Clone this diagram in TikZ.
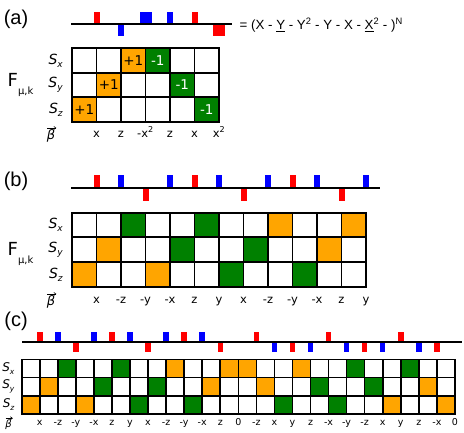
\documentclass[tikz,border=0pt]{standalone}
\usepackage{fontspec}
\setmainfont{DejaVu Sans}
\newfontfamily\arialfont{Liberation Sans}
\usetikzlibrary{positioning, arrows.meta}

\definecolor{pulsered}{RGB}{255,0,0}
\definecolor{pulseblue}{RGB}{0,0,255}
\definecolor{cellorange}{RGB}{255,165,0}
\definecolor{cellgreen}{RGB}{0,128,0}

% spin operator label S with lowered italic subscript
\newcommand{\spinop}[2][9]{\textit{S}\raisebox{-3pt}{\fontsize{#1}{#1}\selectfont\textit{#2}}}
\newcommand{\fmuk}[1][-8pt]{F\raisebox{#1}{\fontsize{10}{10}\selectfont μ,k}}

\begin{document}
\begin{tikzpicture}[
    x=1pt, y=-1pt,
    % panel tags and equation
    panel/.style={font=\arialfont\fontsize{20}{20}\selectfont, inner sep=0pt},
    eqn/.style={font=\arialfont\fontsize{13.3}{13.3}\selectfont, inner sep=0pt},
    % grid cells
    cell/.style={rectangle, draw=black, line width=1.8pt, fill=white, minimum width=24.5pt, minimum height=24.5pt, inner sep=0pt, outer sep=0pt},
    cell0/.style={cell},
    cello/.style={cell, fill=cellorange},
    cellg/.style={cell, fill=cellgreen},
    tallcell/.style={minimum height=24.67pt},
    smallcell/.style={minimum width=18.05pt, minimum height=18.23pt, line width=1.6pt},
    celltext/.style={font=\fontsize{13.5}{13.5}\selectfont, text=white, inner sep=0pt},
    % pulses
    pulse/.style={rectangle, inner sep=0pt, outer sep=0pt, minimum width=6pt, minimum height=12pt},
    xp/.style={pulse, fill=pulsered, anchor=south},
    xm/.style={pulse, fill=pulsered, anchor=north},
    yp/.style={pulse, fill=pulseblue, anchor=south},
    ym/.style={pulse, fill=pulseblue, anchor=north},
    ypw/.style={yp, minimum width=12pt},
    xmw/.style={xm, minimum width=12pt},
    seqline/.style={line width=1.8pt},
    % labels
    rowlab/.style={font=\fontsize{14}{14}\selectfont, inner sep=0pt},
    flab/.style={font=\fontsize{18}{18}\selectfont, inner sep=0pt, anchor=base west},
    collab/.style={font=\fontsize{11.5}{11.5}\selectfont, inner sep=0pt, anchor=base},
    betalab/.style={font=\fontsize{13}{13}\selectfont\itshape, inner sep=0pt},
    vecarrow/.style={line width=0.6pt, -{Straight Barb[length=2pt, width=3pt]}},
]
\useasboundingbox (0,0) rectangle (464,432);

% (a) short sequence
\node[panel] (tagA) at (16,19.5) {(a)};
\coordinate (aL) at (71,23.7);
\coordinate (aR) at (232,23.7);
\foreach \k/\t in {1/xp, 2/ym, 3/ypw, 4/yp, 5/xp, 6/xmw}
    \node[\t] (ap\k) at ({72+24.5*\k},23.7) {};
\draw[seqline] (aL) -- (aR);
\node[eqn, anchor=base west] (eq) at (239.5,29.3) {= (X - \underline{Y} - Y\textsuperscript{2} - Y - X - \underline{X}\textsuperscript{2} - )\textsuperscript{N}};

\foreach \row [count=\r] in {{0,0,o,g,0,0},{0,o,0,0,g,0},{o,0,0,0,0,g}}
    \foreach \v [count=\c] in \row
        \node[cell\v] (a-\r-\c) at ({72+24.5*(\c-0.5)},{48.3+24.5*(\r-0.5)}) {};
\node[celltext, text=black] at (a-1-3) {+1};
\node[celltext] at (a-1-4) {-1};
\node[celltext, text=black] at (a-2-2) {+1};
\node[celltext] at (a-2-5) {-1};
\node[celltext, text=black] at (a-3-1) {+1};
\node[celltext] at (a-3-6) {-1};

\node[rowlab, left=9pt of a-1-1] (aSx) {\spinop{x}};
\node[rowlab, left=9pt of a-2-1] (aSy) {\spinop{y}};
\node[rowlab, left=9pt of a-3-1] (aSz) {\spinop{z}};
\node[flab] (aF) at (7.5,86) {\fmuk};
\node[betalab] (aB) at (51,136) {β};
\draw[vecarrow] ([xshift=0.5pt, yshift=1.5pt]aB.north west) -- ([xshift=1pt, yshift=1.5pt]aB.north east);
\foreach \k/\l in {1/x, 2/z, 3/-x\textsuperscript{2}, 4/z, 5/x, 6/x\textsuperscript{2}}
    \node[collab] (al\k) at ({72+24.5*\k},137.3) {\l};

% (b) twelve-pulse sequence
\node[panel] (tagB) at (16,181) {(b)};
\coordinate (bL) at (71,188.3);
\coordinate (bR) at (380,188.3);
\foreach \k/\t in {1/xp, 2/yp, 3/xm, 4/yp, 5/xp, 6/yp, 7/xm, 8/yp, 9/xp, 10/yp, 11/xm, 12/yp}
    \node[\t, minimum height=13pt] (bp\k) at ({72+24.5*\k},188.3) {};
\draw[seqline] (bL) -- (bR);

\foreach \row [count=\r] in {{0,0,g,0,0,g,0,0,o,0,0,o},{0,o,0,0,g,0,0,g,0,0,o,0},{o,0,0,o,0,0,g,0,0,g,0,0}}
    \foreach \v [count=\c] in \row
        \node[cell\v, tallcell] (b-\r-\c) at ({72+24.5*(\c-0.5)},{212.7+24.67*(\r-0.5)}) {};

\node[rowlab, left=9pt of b-1-1] (bSx) {\spinop{x}};
\node[rowlab, left=9pt of b-2-1] (bSy) {\spinop{y}};
\node[rowlab, left=9pt of b-3-1] (bSz) {\spinop{z}};
\node[flab] (bF) at (7.5,255) {\fmuk};
\node[betalab] (bB) at (51,302) {β};
\draw[vecarrow] ([xshift=0.5pt, yshift=1.5pt]bB.north west) -- ([xshift=1pt, yshift=1.5pt]bB.north east);
\foreach \l [count=\k] in {x,-z,-y,-x,z,y,x,-z,-y,-x,z,y}
    \node[collab] (bl\k) at ({72+24.5*\k},303.3) {\l};

% (c) long sequence
\node[panel] (tagC) at (16,321) {(c)};
\coordinate (cL) at (22,341.7);
\coordinate (cR) at (462,341.7);
\foreach \k/\t in {1/xp, 2/yp, 3/xm, 4/yp, 5/xp, 6/yp, 7/xm, 8/yp, 9/xp, 10/yp, 11/xm,
                   13/xp, 14/ym, 15/xm, 16/ym, 17/xp, 18/ym, 19/xm, 20/ym, 21/xp, 22/ym, 23/xm}
    \node[\t, minimum width=5.5pt, minimum height=10pt] (cp\k) at ({21.7+18.05*\k},341.7) {};
\draw[seqline] (cL) -- (cR);

\foreach \row [count=\r] in {{0,0,g,0,0,g,0,0,o,0,0,o,o,0,0,o,0,0,g,0,0,g,0,0},
                             {0,o,0,0,g,0,0,g,0,0,o,0,0,o,0,0,g,0,0,g,0,0,o,0},
                             {o,0,0,o,0,0,g,0,0,g,0,0,0,0,g,0,0,g,0,0,o,0,0,o}}
    \foreach \v [count=\c] in \row
        \node[cell\v, smallcell] (c-\r-\c) at ({21.7+18.05*(\c-0.5)},{359.3+18.23*(\r-0.5)}) {};

\node[rowlab, font=\fontsize{12}{12}\selectfont, left=7pt of c-1-1] (cSx) {\spinop[7.5]{x}};
\node[rowlab, font=\fontsize{12}{12}\selectfont, left=7pt of c-2-1] (cSy) {\spinop[7.5]{y}};
\node[rowlab, font=\fontsize{12}{12}\selectfont, left=7pt of c-3-1] (cSz) {\spinop[7.5]{z}};
\node[betalab, font=\fontsize{10}{10}\selectfont\itshape] (cB) at (8.5,424.5) {β};
\draw[vecarrow] ([xshift=0.5pt, yshift=1.2pt]cB.north west) -- ([xshift=1pt, yshift=1.2pt]cB.north east);
\foreach \l [count=\k] in {x,-z,-y,-x,z,y,x,-z,-y,-x,z,0,-z,x,y,z,-x,-y,-z,x,y,z,-x,0}
    \node[collab, font=\fontsize{9.5}{9.5}\selectfont] (cl\k) at ({21.7+18.05*\k},425.7) {\l};

\end{tikzpicture}
\end{document}
